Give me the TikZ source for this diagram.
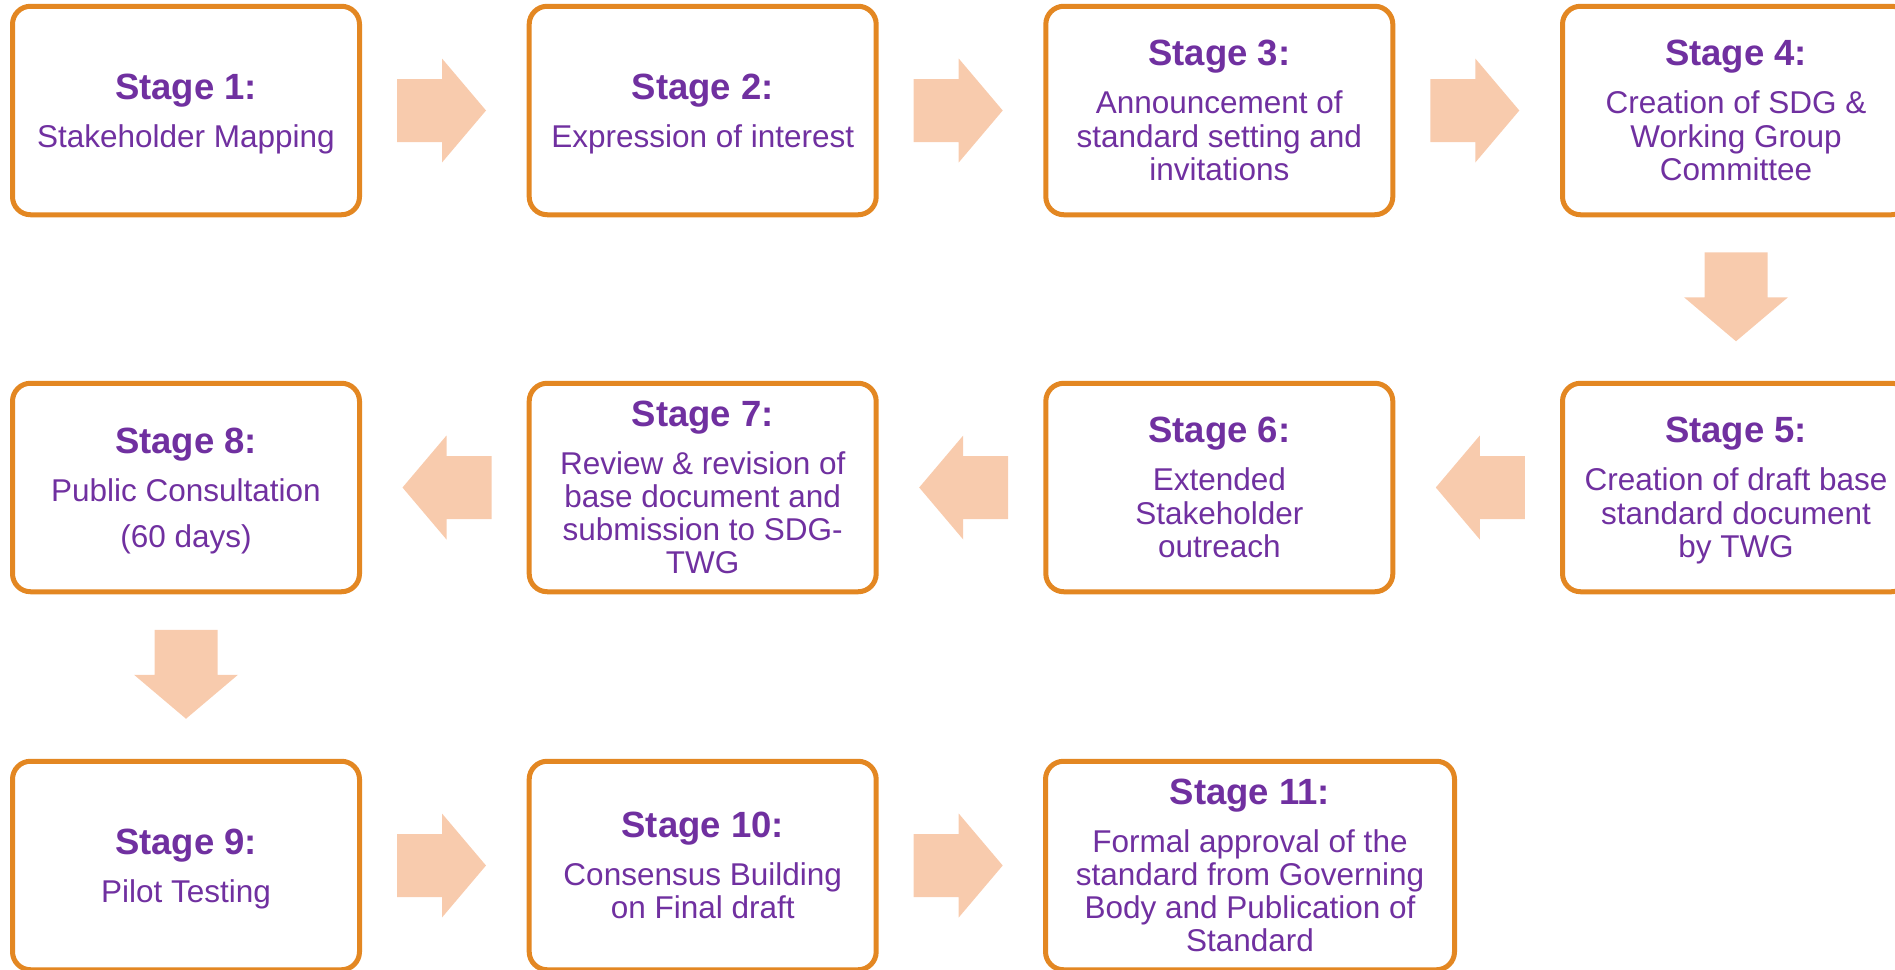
\documentclass[tikz,border=0pt]{standalone}
\usepackage{fontspec}
\setmainfont{Liberation Sans}
\usetikzlibrary{calc}
\definecolor{boxorange}{RGB}{227,135,34}
\definecolor{arrowpeach}{RGB}{248,203,173}
\definecolor{txtpurple}{RGB}{112,48,160}
\newcommand\tstrut{\rule[-24.7pt]{0pt}{59.7pt}}
\newcommand\bstrut{\rule[-10pt]{0pt}{33.3pt}}
\newcommand\stg[1]{{\fontsize{36.5pt}{0pt}\selectfont\bfseries\tstrut #1}}
\newcommand\bl[1]{\bstrut #1}
\tikzset{
  stagebox/.style={draw=boxorange, line width=5pt, fill=white, rounded corners=18pt,
    minimum width=347pt, minimum height=208.5pt, inner sep=0pt, align=center,
    text=txtpurple, font=\fontsize{31.5pt}{0pt}\selectfont},
  blockarrow/.pic={\fill[arrowpeach] (-44.5,-31.5) -- (0.5,-31.5) -- (0.5,-52) -- (44.5,0)
    -- (0.5,52) -- (0.5,31.5) -- (-44.5,31.5) -- cycle;}
}
\begin{document}
\lineskip=0pt
\lineskiplimit=0pt
\begin{tikzpicture}[x=1pt,y=-1pt]
\useasboundingbox (0,0) rectangle (1895,969);
\clip (0,0) rectangle (1895,969);
% row 1
\node[stagebox] (s1) at (186,110.5) {\stg{Stage 1:}\\ \bl{Stakeholder Mapping}};
\node[stagebox] (s2) at (702.7,110.5) {\stg{Stage 2:}\\ \bl{Expression of interest}};
\node[stagebox] (s3) at (1219.3,110.5) {\stg{Stage 3:}\\ \bl{Announcement of}\\ \bl{standard setting and}\\ \bl{invitations}};
\node[stagebox] (s4) at (1736,110.5) {\stg{Stage 4:}\\ \bl{Creation of SDG \&}\\ \bl{Working Group}\\ \bl{Committee}};
% row 2
\node[stagebox] (s8) at (186,487.5) {\stg{Stage 8:}\\ \bl{Public Consultation}\\[12.7pt] \bl{(60 days)}};
\node[stagebox] (s7) at (702.7,487.5) {\stg{Stage 7:}\\ \bl{Review \& revision of}\\ \bl{base document and}\\ \bl{submission to SDG-}\\ \bl{TWG}};
\node[stagebox] (s6) at (1219.3,487.5) {\stg{Stage 6:}\\ \bl{Extended}\\ \bl{Stakeholder}\\ \bl{outreach}};
\node[stagebox] (s5) at (1736,487.5) {\stg{Stage 5:}\\ \bl{Creation of draft base}\\ \bl{standard document}\\ \bl{by TWG}};
% row 3
\node[stagebox] (s9) at (186,865.5) {\stg{Stage 9:}\\ \bl{Pilot Testing}};
\node[stagebox] (s10) at (702.7,865.5) {\stg{Stage 10:}\\ \bl{Consensus Building}\\ \bl{on Final draft}};
\node[stagebox, minimum width=409pt] (s11) at (1250,865.5) {\stg{Stage 11:}\\ \bl{Formal approval of the}\\ \bl{standard from Governing}\\ \bl{Body and Publication of}\\ \bl{Standard}};
% arrows
\pic at ($(s1.east)+(79.5,0)$) {blockarrow};
\pic at ($(s2.east)+(79.5,0)$) {blockarrow};
\pic at ($(s3.east)+(79.5,0)$) {blockarrow};
\pic[rotate=-90] at ($(s4.south)+(0,79.5)$) {blockarrow};
\pic[rotate=180] at ($(s6.east)+(85,0)$) {blockarrow};
\pic[rotate=180] at ($(s7.east)+(85,0)$) {blockarrow};
\pic[rotate=180] at ($(s8.east)+(85,0)$) {blockarrow};
\pic[rotate=-90] at ($(s8.south)+(0,80)$) {blockarrow};
\pic at ($(s9.east)+(79.5,0)$) {blockarrow};
\pic at ($(s10.east)+(79.5,0)$) {blockarrow};
\end{tikzpicture}
\end{document}
